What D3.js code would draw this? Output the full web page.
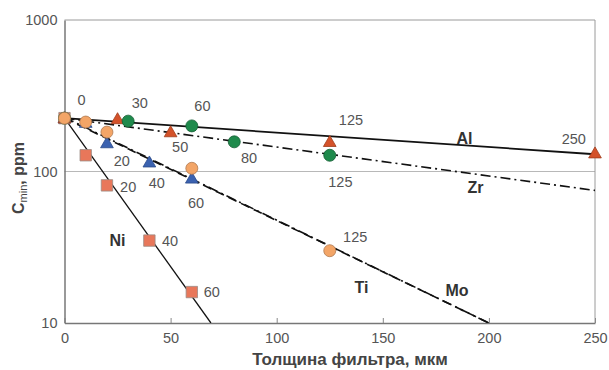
<!DOCTYPE html>
<html><head><meta charset="utf-8">
<script src="https://cdn.jsdelivr.net/npm/d3@7"></script>
<style>body{margin:0;background:#fff}svg{display:block}</style>
</head><body>
<svg id="c" width="609" height="370"></svg>
<script>
// ---- data ----
const xTicks = [0, 50, 100, 150, 200, 250];
const yTicks = [10, 100, 1000];

const alX = [0, 25, 50, 125, 250];
const alY = [225, 222, 182, 157, 132];
const alLineX = [0, 250];
const alLineY = [225, 130];

const zrX = [0, 30, 60, 80, 125];
const zrY = [225, 215, 200, 157, 128];
const zrLineX = [0, 250];
const zrLineY = [225, 75];

const tiX = [0, 10, 20, 60, 125];
const tiY = [225, 212, 182, 105, 30];
const tiLineX = [0, 200];
const tiLineY = [225, 10];

const moX = [0, 10, 20, 40, 60];
const moY = [225, 210, 154, 115, 90];
const moLineX = [0, 200];
const moLineY = [228, 10];

const niX = [0, 10, 20, 40, 60];
const niY = [225, 128, 81, 35, 16];
const niLineX = [0, 69];
const niLineY = [225, 10];

// annotation labels: text, thickness, value
const numLabels = [
  ["0", 8, 296], ["30", 35.5, 283], ["60", 65, 270], ["50", 54.5, 145],
  ["20", 27, 118], ["40", 43.5, 84], ["20", 30, 79], ["60", 62, 62],
  ["125", 135, 218], ["80", 87, 123], ["125", 130, 85], ["250", 240, 164],
  ["40", 49.7, 34.6], ["60", 69.4, 16], ["125", 137, 37]
];
const nameLabels = [
  ["Al", 188.5, 166], ["Zr", 193.7, 78], ["Ni", 25, 35], ["Ti", 140, 17.2], ["Mo", 185, 16.5]
];

// ---- drawing ----
const svg = d3.select("#c");
const L = 64.5, R = 595, T = 20, B = 323;
const x = d3.scaleLinear().domain([0, 250]).range([L, R]);
const y = d3.scaleLog().domain([10, 1000]).range([B, T]);
const font = "'Liberation Sans', Arial, Helvetica, sans-serif";

// gridline at 100
svg.append("line").attr("x1", L).attr("x2", R).attr("y1", y(100)).attr("y2", y(100))
  .attr("stroke", "#b8b8b8").attr("stroke-width", 1);
// frame
svg.append("line").attr("x1", L).attr("x2", R).attr("y1", T).attr("y2", T).attr("stroke", "#9a9a9a");
svg.append("line").attr("x1", R).attr("x2", R).attr("y1", T).attr("y2", B).attr("stroke", "#9a9a9a");

// x axis
const xAxis = svg.append("g").attr("transform", `translate(0,${B})`)
  .call(d3.axisBottom(x).tickValues(xTicks).tickSizeInner(-5).tickSizeOuter(0).tickPadding(10));
xAxis.select(".domain").attr("stroke", "#777").attr("stroke-width", 1.5);
xAxis.selectAll(".tick line").attr("stroke", "#888");
xAxis.selectAll("text").attr("font-family", font).attr("font-size", 14.5).attr("fill", "#555");

// y axis
const yAxis = svg.append("g").attr("transform", `translate(${L},0)`)
  .call(d3.axisLeft(y).tickValues(yTicks).tickFormat(d3.format("d")).tickSize(0).tickPadding(7));
yAxis.select(".domain").attr("stroke", "#777").attr("stroke-width", 1.5);
yAxis.selectAll("text").attr("font-family", font).attr("font-size", 14.5).attr("fill", "#555");

// axis titles
svg.append("text").attr("x", 350).attr("y", 365).attr("text-anchor", "middle")
  .attr("font-family", font).attr("font-size", 17).attr("font-weight", "bold").attr("fill", "#444")
  .text("Толщина фильтра, мкм");
const yt = svg.append("text").attr("transform", "translate(24,178) rotate(-90)")
  .attr("text-anchor", "middle").attr("font-family", font).attr("font-size", 16)
  .attr("font-weight", "bold").attr("fill", "#444");
yt.append("tspan").text("C");
yt.append("tspan").attr("font-size", 11).attr("font-weight", "normal").attr("dy", 3).text("min");
yt.append("tspan").attr("dy", -3).text(", ppm");

// lines
const line = d3.line().x(d => x(d[0])).y(d => y(d[1]));
const clip = svg.append("clipPath").attr("id", "pc").append("rect")
  .attr("x", L).attr("y", T).attr("width", R - L).attr("height", B - T);
function drawLine(xs, ys, dash, w) {
  svg.append("path").datum(xs.map((v, i) => [v, ys[i]])).attr("d", line)
    .attr("fill", "none").attr("stroke", "#111").attr("stroke-width", w)
    .attr("stroke-dasharray", dash).attr("clip-path", "url(#pc)");
}
drawLine(alLineX, alLineY, null, 1.8);
drawLine(zrLineX, zrLineY, "10,4,2,4", 1.6);
drawLine(tiLineX, tiLineY, "9,5", 1.6);
drawLine(moLineX, moLineY, "10,4,2,4", 1.6);
drawLine(niLineX, niLineY, null, 1.3);

// markers
const tri = d3.symbol().type(d3.symbolTriangle).size(70);
const sq = d3.symbol().type(d3.symbolSquare).size(130);
function drawSym(xs, ys, gen, fill, stroke, dyOff) {
  svg.append("g").selectAll("path").data(xs.map((v, i) => [v, ys[i]])).join("path")
    .attr("d", gen).attr("transform", d => `translate(${x(d[0])},${y(d[1]) + (dyOff || 0)})`)
    .attr("fill", fill).attr("stroke", stroke).attr("stroke-width", 0.8);
}
function drawCirc(xs, ys, fill, stroke) {
  svg.append("g").selectAll("circle").data(xs.map((v, i) => [v, ys[i]])).join("circle")
    .attr("cx", d => x(d[0])).attr("cy", d => y(d[1])).attr("r", 6)
    .attr("fill", fill).attr("stroke", stroke).attr("stroke-width", 0.8);
}
drawSym(niX, niY, sq, "#e8775a", "#9a8a84");
drawSym(moX, moY, tri, "#3b62b0", "#2a4a8a", 1);
drawSym(alX, alY, tri, "#d4522a", "#a03c1c", 1);
drawCirc(zrX, zrY, "#1f8a4c", "#145e33");
drawCirc(tiX, tiY, "#f3a567", "#b07a50");

// labels
svg.append("g").selectAll("text").data(numLabels).join("text")
  .attr("x", d => x(d[1])).attr("y", d => y(d[2])).attr("dy", "0.35em")
  .attr("text-anchor", "middle").attr("font-family", font).attr("font-size", 14.5)
  .attr("fill", "#555").text(d => d[0]);
svg.append("g").selectAll("text").data(nameLabels).join("text")
  .attr("x", d => x(d[1])).attr("y", d => y(d[2])).attr("dy", "0.35em")
  .attr("text-anchor", "middle").attr("font-family", font).attr("font-size", 16)
  .attr("font-weight", "bold").attr("fill", "#333").text(d => d[0]);
</script>
</body></html>
